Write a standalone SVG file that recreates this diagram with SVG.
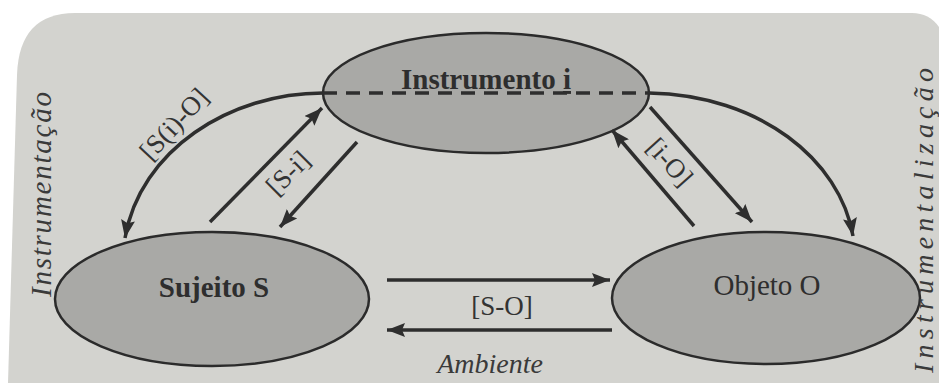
<svg xmlns="http://www.w3.org/2000/svg" width="939" height="383" viewBox="0 0 939 383">
  <style>
    .node { fill: #a9a9a6; stroke: #2b2b2b; stroke-width: 2.5; }
    .ntext { font-family: "Liberation Serif", "DejaVu Serif", serif; font-size: 29px; fill: #2e2e2e; text-anchor: middle; }
    .conn { fill: none; stroke: #2e2e2e; stroke-width: 3.5; }
    .lbl { font-family: "Liberation Serif", "DejaVu Serif", serif; font-size: 27px; fill: #333; text-anchor: middle; }
    .side { font-family: "Liberation Serif", "DejaVu Serif", serif; font-style: italic; fill: #3a3a3a; }
  </style>
  <defs>
    <marker id="ah" viewBox="0 0 18 14" refX="18" refY="7" markerWidth="18" markerHeight="14" markerUnits="userSpaceOnUse" orient="auto">
      <path d="M0,0 L18,7 L0,14 L3,7 Z" fill="#2e2e2e"/>
    </marker>
  </defs>

  <rect x="0" y="0" width="939" height="383" fill="#ffffff"/>
  <path d="M 8 383 L 17 75 Q 19 13 75 13 L 912 13 Q 932 13 942 32 L 942 383 Z" fill="#d3d3cf"/>

  <g id="node-instrumento">
    <ellipse class="node" cx="486" cy="93" rx="163" ry="60"/>
    <text class="ntext" x="486" y="89" font-weight="bold">Instrumento <tspan text-decoration="underline">i</tspan></text>
  </g>
  <g id="node-sujeito">
    <ellipse class="node" cx="212" cy="299" rx="157" ry="67"/>
    <text class="ntext" x="214" y="297" font-weight="bold" fill="#3a3a3a">Sujeito S</text>
  </g>
  <g id="node-objeto">
    <ellipse class="node" cx="766" cy="298" rx="154" ry="66"/>
    <text class="ntext" x="767" y="295" fill="#1e1e1e">Objeto O</text>
  </g>

  <g id="connectors">
    <path class="conn" d="M 323 93 L 649 93" stroke-dasharray="14 9"/>
    <path class="conn" d="M 323 93 C 230 93, 140 150, 125 238" marker-end="url(#ah)"/>
    <path class="conn" d="M 649 93 C 760 95, 840 160, 853 236" marker-end="url(#ah)"/>
    <path class="conn" d="M 210 222 L 322 108" marker-end="url(#ah)"/>
    <path class="conn" d="M 357 142 L 280 227" marker-end="url(#ah)"/>
    <path class="conn" d="M 650 107 L 752 222" marker-end="url(#ah)"/>
    <path class="conn" d="M 694 226 L 612 130" marker-end="url(#ah)"/>
    <path class="conn" d="M 387 280 L 610 280" marker-end="url(#ah)"/>
    <path class="conn" d="M 612 330 L 387 330" marker-end="url(#ah)"/>
  </g>

  <g id="labels">
    <text class="lbl" transform="translate(174,124) rotate(-47)" x="0" y="9">[S(i)-O]</text>
    <text class="lbl" transform="translate(288,173) rotate(-45)" x="0" y="9">[S-i]</text>
    <text class="lbl" transform="translate(670,162) rotate(48)" x="0" y="9">[i-O]</text>
    <text class="lbl" x="502" y="315" font-size="28">[S-O]</text>
    <text class="side" x="490" y="373" font-size="28" text-anchor="middle">Ambiente</text>
    <text class="side" transform="translate(51,297) rotate(-90)" x="0" y="0" font-size="29" textLength="205" lengthAdjust="spacing">Instrumentação</text>
    <text class="side" transform="translate(933,373) rotate(-90)" x="0" y="0" font-size="28" textLength="305" lengthAdjust="spacing">Instrumentalização</text>
  </g>
</svg>
